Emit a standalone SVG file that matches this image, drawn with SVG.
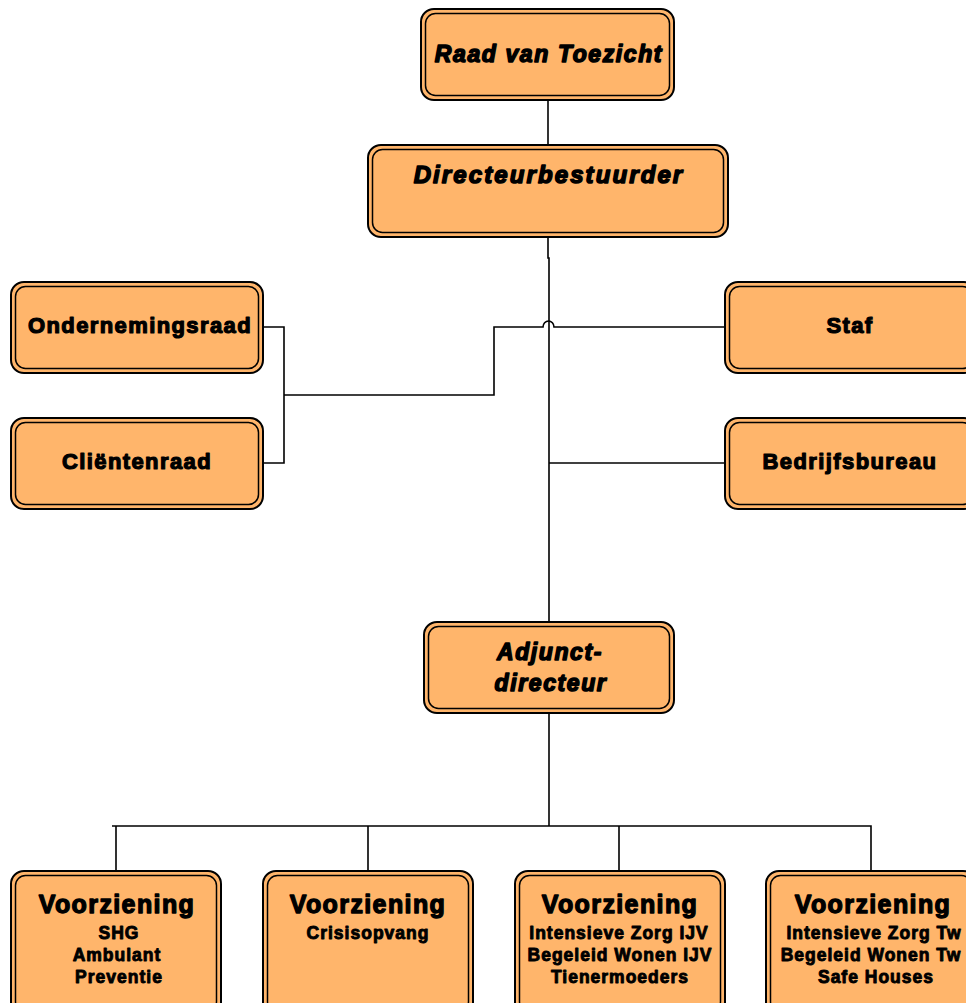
<svg xmlns="http://www.w3.org/2000/svg" width="966" height="1003" viewBox="0 0 966 1003">
<style>
.o{fill:#FFB56B;stroke:#000;stroke-width:2}
.i{fill:none;stroke:#000;stroke-width:1.5}
.c{fill:none;stroke:#000;stroke-width:1.6}
text{font-family:"Liberation Sans",Arial,sans-serif;font-weight:bold;fill:#000;stroke:#000;text-anchor:middle;stroke-linejoin:round}
.t{font-style:italic;font-size:23px;stroke-width:1.5;letter-spacing:1.6px}
.d{letter-spacing:2.1px;font-size:24px}
.m{font-size:22px;stroke-width:1.2;letter-spacing:1.4px}
.v{font-size:25px;stroke-width:1.3;letter-spacing:1.4px}
.s{font-size:17.5px;stroke-width:0.9;letter-spacing:1px}
</style>
<rect width="966" height="1003" fill="#fff"/>
<g id="connectors">
<path class="c" d="M548,100 V145"/>
<path class="c" d="M548,237 V258 H549 V622"/>
<path class="c" d="M263,327 H284 V463 H263"/>
<path class="c" d="M284,395 H494 V327 H543 A5.5,6 0 0 1 554,327 H725"/>
<path class="c" d="M549,463 H725"/>
<path class="c" d="M549,713 V826"/>
<path class="c" d="M112,826 H871 V871"/>
<path class="c" d="M116,826 V871 M368,826 V871 M619,826 V871"/>
</g>
<g id="raad">
<rect class="o" x="421" y="9" width="253" height="91" rx="13"/>
<rect class="i" x="425.5" y="13.5" width="244" height="82" rx="10"/>
<text class="t" x="549" y="62">Raad van Toezicht</text>
</g>
<g id="directeur">
<rect class="o" x="368" y="145" width="360" height="92" rx="13"/>
<rect class="i" x="372.5" y="149.5" width="351" height="83" rx="10"/>
<text class="t d" x="549" y="183">Directeurbestuurder</text>
</g>
<g id="ondernemingsraad">
<rect class="o" x="11" y="282" width="252" height="91" rx="13"/>
<rect class="i" x="15.5" y="286.5" width="243" height="82" rx="10"/>
<text class="m" x="140" y="333">Ondernemingsraad</text>
</g>
<g id="clientenraad">
<rect class="o" x="11" y="418" width="252" height="91" rx="13"/>
<rect class="i" x="15.5" y="422.5" width="243" height="82" rx="10"/>
<text class="m" x="137" y="469">Cliëntenraad</text>
</g>
<g id="staf">
<rect class="o" x="725" y="282" width="252" height="91" rx="13"/>
<rect class="i" x="729.5" y="286.5" width="243" height="82" rx="10"/>
<text class="m" x="850" y="333">Staf</text>
</g>
<g id="bedrijfsbureau">
<rect class="o" x="725" y="418" width="252" height="91" rx="13"/>
<rect class="i" x="729.5" y="422.5" width="243" height="82" rx="10"/>
<text class="m" x="850" y="469">Bedrijfsbureau</text>
</g>
<g id="adjunct">
<rect class="o" x="424" y="622" width="250" height="91" rx="13"/>
<rect class="i" x="428.5" y="626.5" width="241" height="82" rx="10"/>
<text class="t" x="550" y="660">Adjunct-</text>
<text class="t" x="551" y="691">directeur</text>
</g>
<g id="voorziening1">
<rect class="o" x="11" y="871" width="210" height="145" rx="13"/>
<rect class="i" x="15.5" y="875.5" width="201" height="136" rx="10"/>
<text class="v" x="117" y="913">Voorziening</text>
<text class="s" x="119" y="939">SHG</text>
<text class="s" x="117" y="961">Ambulant</text>
<text class="s" x="119" y="983">Preventie</text>
</g>
<g id="voorziening2">
<rect class="o" x="263" y="871" width="210" height="145" rx="13"/>
<rect class="i" x="267.5" y="875.5" width="201" height="136" rx="10"/>
<text class="v" x="368" y="913">Voorziening</text>
<text class="s" x="368" y="939">Crisisopvang</text>
</g>
<g id="voorziening3">
<rect class="o" x="515" y="871" width="210" height="145" rx="13"/>
<rect class="i" x="519.5" y="875.5" width="201" height="136" rx="10"/>
<text class="v" x="620" y="913">Voorziening</text>
<text class="s" x="619" y="939">Intensieve Zorg IJV</text>
<text class="s" x="620" y="961">Begeleid Wonen IJV</text>
<text class="s" x="620" y="983">Tienermoeders</text>
</g>
<g id="voorziening4">
<rect class="o" x="766" y="871" width="210" height="145" rx="13"/>
<rect class="i" x="770.5" y="875.5" width="201" height="136" rx="10"/>
<text class="v" x="873" y="913">Voorziening</text>
<text class="s" x="874" y="939">Intensieve Zorg Tw</text>
<text class="s" x="871" y="961">Begeleid Wonen Tw</text>
<text class="s" x="876" y="983">Safe Houses</text>
</g>
</svg>
